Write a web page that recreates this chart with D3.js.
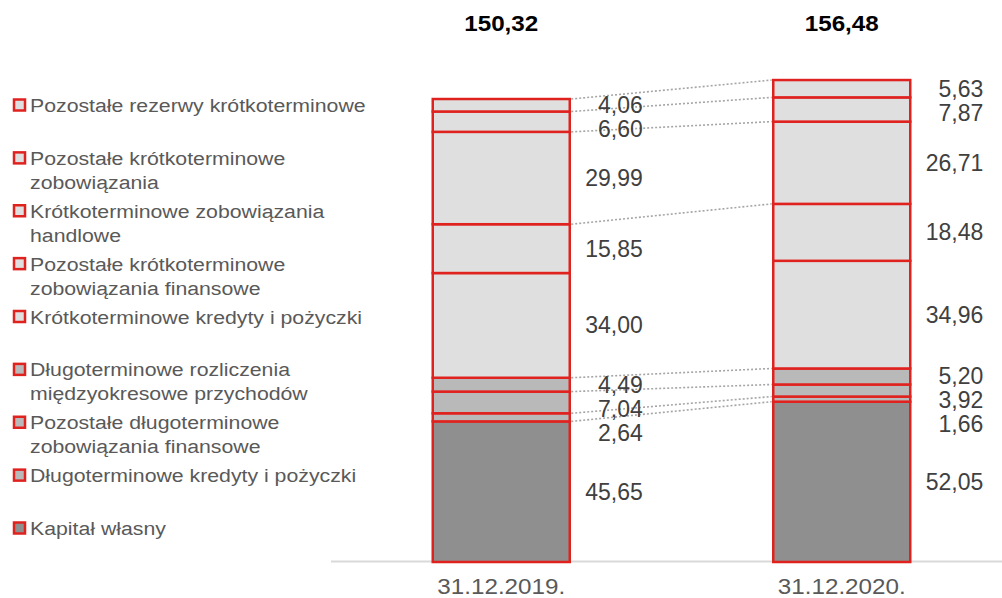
<html>
  <head>
    <style>
    body {
      margin: 0px;
      background: white;
    }
    text {
      font-family: Arial, "Liberation Sans", sans-serif;
    }
    </style>
  </head>
  <body>
    <div id="elm"></div>

    <script src="https://cdn.jsdelivr.net/npm/d3@7"></script>
    <script>

    'use strict';

    // data, bottom of the stack first
    var categories = ['31.12.2019.', '31.12.2020.'];
    var series = [
      'Kapitał własny',
      'Długoterminowe kredyty i pożyczki',
      'Pozostałe długoterminowe zobowiązania finansowe',
      'Długoterminowe rozliczenia międzyokresowe przychodów',
      'Krótkoterminowe kredyty i pożyczki',
      'Pozostałe krótkoterminowe zobowiązania finansowe',
      'Krótkoterminowe zobowiązania handlowe',
      'Pozostałe krótkoterminowe zobowiązania',
      'Pozostałe rezerwy krótkoterminowe'
    ];
    // legend text split the way the original wraps it
    var legendLines = [
      ['Kapitał własny'],
      ['Długoterminowe kredyty i pożyczki'],
      ['Pozostałe długoterminowe', 'zobowiązania finansowe'],
      ['Długoterminowe rozliczenia', 'międzyokresowe przychodów'],
      ['Krótkoterminowe kredyty i pożyczki'],
      ['Pozostałe krótkoterminowe', 'zobowiązania finansowe'],
      ['Krótkoterminowe zobowiązania', 'handlowe'],
      ['Pozostałe krótkoterminowe', 'zobowiązania'],
      ['Pozostałe rezerwy krótkoterminowe']
    ];
    var values2019 = [45.65, 2.64, 7.04, 4.49, 34.00, 15.85, 29.99, 6.60, 4.06];
    var values2020 = [52.05, 1.66, 3.92, 5.20, 34.96, 18.48, 26.71, 7.87, 5.63];
    var fills = ['#8f8f8f', '#b9b9b9', '#b9b9b9', '#b9b9b9',
                 '#dfdfdf', '#dfdfdf', '#dfdfdf', '#dfdfdf', '#dfdfdf'];

    var W = 1002, H = 598;
    var red = '#e0221f';
    var barW = 137;

    var pl = d3.formatLocale({decimal: ',', thousands: ' ', grouping: [3], currency: ['', '']});
    var fmt = pl.format('.2f');

    var rows = categories.map(function(c, i) {
      var o = {cat: c};
      var v = i === 0 ? values2019 : values2020;
      series.forEach(function(s, j) { o[s] = v[j]; });
      return o;
    });
    var stacked = d3.stack().keys(series)(rows);

    var x = d3.scalePoint().domain(categories).range([331, 1012]).padding(0.5);
    var y = d3.scaleLinear().domain([0, 160]).range([562, 562 - 160 * 3.08]);
    var legY = d3.scalePoint().domain(series.slice().reverse()).range([112, 535]);

    var svg = d3.select('#elm').append('svg')
      .attr('width', W).attr('height', H);

    // base line
    svg.append('line')
      .attr('x1', 331).attr('x2', W)
      .attr('y1', 561.5).attr('y2', 561.5)
      .attr('stroke', '#d9d9d9').attr('stroke-width', 2);

    // bars
    var layer = svg.selectAll('g.layer').data(stacked).enter().append('g')
      .attr('class', 'layer')
      .attr('fill', function(d, i) { return fills[i]; });

    layer.selectAll('rect').data(function(d) { return d; }).enter().append('rect')
      .attr('x', function(d) { return x(d.data.cat) - barW / 2; })
      .attr('width', barW)
      .attr('y', function(d) { return y(d[1]); })
      .attr('height', function(d) { return y(d[0]) - y(d[1]); })
      .attr('stroke', red).attr('stroke-width', 2.5);

    // dotted connectors between segment tops (the original has none at index 4)
    var c0 = categories[0], c1 = categories[1];
    svg.selectAll('line.conn').data(stacked.filter(function(d, i) { return i !== 4; }))
      .enter().append('line')
      .attr('class', 'conn')
      .attr('x1', x(c0) + barW / 2 + 1.5)
      .attr('x2', x(c1) - barW / 2 - 1.5)
      .attr('y1', function(d) { return y(d[0][1]); })
      .attr('y2', function(d) { return y(d[1][1]); })
      .attr('stroke', '#a6a6a6')
      .attr('stroke-width', 1.6)
      .attr('stroke-dasharray', '2 2');

    // value labels, pushed down when they crowd each other
    categories.forEach(function(c, ci) {
      var labs = stacked.map(function(s) {
        var d = s[ci];
        return {v: d[1] - d[0], y: (y(d[0]) + y(d[1])) / 2};
      }).reverse();
      for (var k = 1; k < labs.length; k++) {
        if (labs[k].y - labs[k - 1].y < 24) labs[k].y = labs[k - 1].y + 24;
      }
      svg.selectAll(null).data(labs).enter().append('text')
        .attr('x', x(c) + barW / 2 + 73)
        .attr('y', function(d) { return d.y + 8; })
        .attr('text-anchor', 'end')
        .attr('font-size', 23)
        .attr('fill', '#404040')
        .text(function(d) { return fmt(d.v); });
    });

    // totals
    svg.selectAll('text.total').data(categories).enter().append('text')
      .attr('class', 'total')
      .attr('transform', function(c) { return 'translate(' + x(c) + ',31) scale(1.1,1)'; })
      .attr('text-anchor', 'middle')
      .attr('font-size', 22)
      .attr('font-weight', 'bold')
      .attr('fill', '#000')
      .text(function(c, i) { return fmt(d3.sum(i === 0 ? values2019 : values2020)); });

    // category labels
    svg.selectAll('text.cat').data(categories).enter().append('text')
      .attr('class', 'cat')
      .attr('transform', function(c) { return 'translate(' + x(c) + ',594) scale(1.1,1)'; })
      .attr('text-anchor', 'middle')
      .attr('font-size', 22)
      .attr('fill', '#595959')
      .text(function(c) { return c; });

    // legend
    var leg = svg.selectAll('g.leg').data(series).enter().append('g')
      .attr('class', 'leg')
      .attr('transform', function(s) { return 'translate(0,' + legY(s) + ')'; });

    leg.append('rect')
      .attr('x', 14).attr('y', -12.5)
      .attr('width', 11).attr('height', 11)
      .attr('fill', function(s, i) { return fills[i]; })
      .attr('stroke', red).attr('stroke-width', 2.5);

    leg.each(function(s, i) {
      d3.select(this).selectAll('text').data(legendLines[i]).enter().append('text')
        .attr('transform', function(t, k) { return 'translate(30,' + (k * 24) + ') scale(1.12,1)'; })
        .attr('font-size', 19)
        .attr('fill', '#595959')
        .text(function(t) { return t; });
    });

    </script>
  </body>
</html>
